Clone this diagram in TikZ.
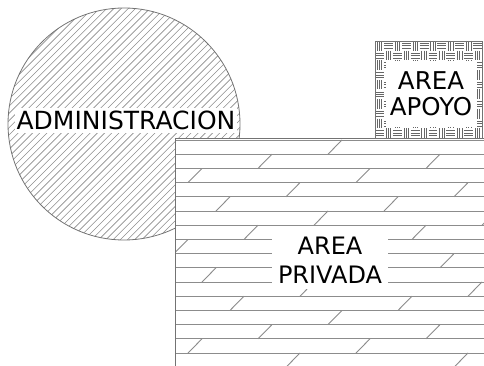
\documentclass[tikz,border=0pt]{standalone}
\usepackage{fontspec}
\setmainfont{DejaVu Sans}
\begin{document}
\begin{tikzpicture}[x=1pt,y=-1pt,
  hatch/.style={draw=black!45,line width=0.6pt},
  outline/.style={draw=black!55,line width=0.8pt},
  plank/.style={draw=black!45,line width=0.9pt},
  weave/.style={draw=black!60,line width=0.7pt},
  lbl/.style={font=\fontsize{24}{28}\selectfont, text=black, align=center, fill=white, inner sep=0pt}]
\useasboundingbox (0,0) rectangle (484,366);
% circle (ADMINISTRACION)
\begin{scope}
  \clip (124,124) circle (116pt);
  \foreach \c in {0,7.2,...,500} \draw[hatch] (\c-260,260) -- (\c,0);
\end{scope}
\draw[outline] (124,124) circle (116pt);
\node[lbl, font=\fontsize{25}{28}\selectfont, inner xsep=2pt, inner ysep=3pt] (admin) at (126,120.5) {ADMINISTRACION};
% rectangle (AREA PRIVADA)
\fill[white] (175,138.3) rectangle (484,367);
\begin{scope}
  \clip (175,138.3) rectangle (484,367);
  \foreach \k in {0,...,16} {
    \pgfmathsetmacro\yy{140+14.2*\k}
    \draw[plank] (175,\yy) -- (484,\yy);
  }
  \foreach \k in {0,...,15} {
    \foreach \m in {0,...,10} {
      \pgfmathsetmacro\xx{160+168*\m-70*\k}
      \pgfmathsetmacro\ya{140+14.2*\k}
      \pgfmathsetmacro\yb{\ya+14.2}
      \draw[plank] (\xx,\yb) -- (\xx+14,\ya);
    }
  }
\end{scope}
\draw[outline] (175,367) -- (175,138.3) -- (484,138.3);
% AREA APOYO box
\foreach \i in {0,...,11} {
  \foreach \j in {0,...,9} {
    \pgfmathsetmacro\cx{375+\i*8.9167}
    \pgfmathsetmacro\cy{41+\j*9.7}
    \pgfmathtruncatemacro\pp{mod(\i+\j,2)}
    \ifnum\pp=0
      \foreach \f in {0.25,0.5,0.75} \draw[weave] (\cx+8.9167*\f,\cy) -- (\cx+8.9167*\f,\cy+9.7);
    \else
      \foreach \f in {0.25,0.5,0.75} \draw[weave] (\cx,\cy+9.7*\f) -- (\cx+8.9167,\cy+9.7*\f);
    \fi
  }
}
\draw[outline] (375,41) rectangle (482,138.3);
\node[lbl, font=\fontsize{24.5}{26}\selectfont, minimum width=91pt, minimum height=66pt] (apoyo) at (431,94) {AREA\\APOYO};
% AREA PRIVADA label
\node[lbl, font=\fontsize{24}{29}\selectfont, minimum width=116pt, minimum height=58pt] (privada) at (330,260) {AREA\\PRIVADA};
\end{tikzpicture}
\end{document}
